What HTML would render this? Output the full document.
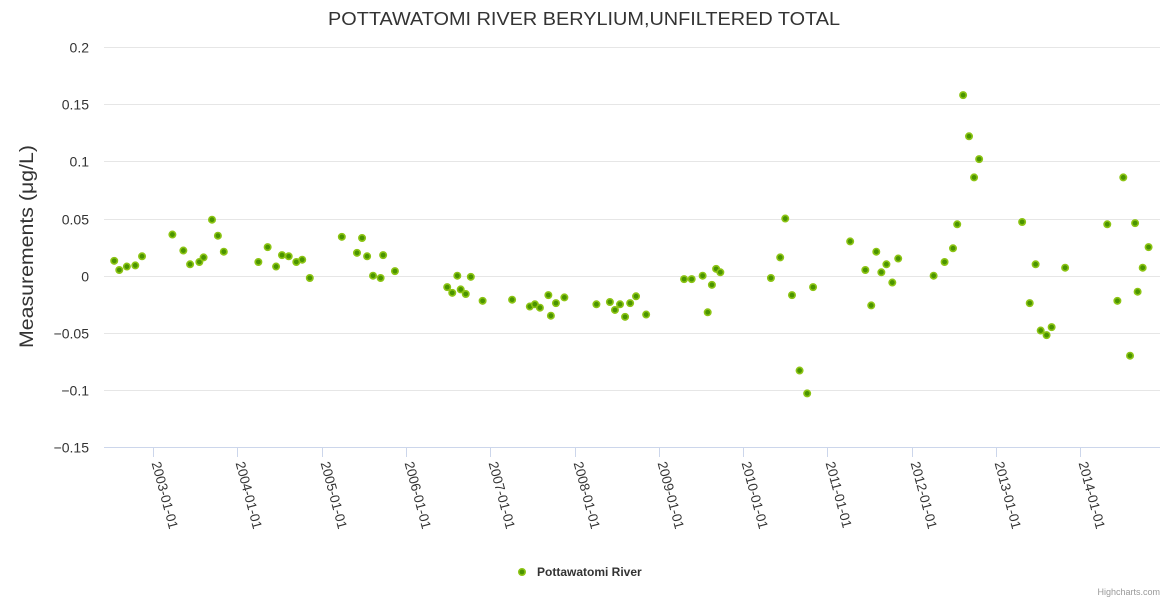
<!DOCTYPE html>
<html><head><meta charset="utf-8"><style>
body{margin:0;background:#fff;font-family:"Liberation Sans",sans-serif}
svg text{font-family:"Liberation Sans",sans-serif}
</style></head><body>
<svg id="chart" width="1170" height="600" xmlns="http://www.w3.org/2000/svg">
<rect width="1170" height="600" fill="#fff"/>
<text x="328" y="25" textLength="512" lengthAdjust="spacingAndGlyphs" font-size="18" fill="#333">POTTAWATOMI RIVER BERYLIUM,UNFILTERED TOTAL</text>
<text transform="translate(33,348) rotate(-90)" textLength="203" lengthAdjust="spacingAndGlyphs" font-size="19" fill="#333">Measurements (μg/L)</text>
<g id="grid"></g><g id="xaxis"></g><g id="pts"></g>
<g>
<circle cx="522" cy="572" r="3.2" fill="#4a9400" stroke="#8cc414" stroke-width="1.6"/>
<text x="537" y="576" font-size="12" font-weight="bold" fill="#333">Pottawatomi River</text></g>
<text x="1160" y="595" text-anchor="end" font-size="9" fill="#999">Highcharts.com</text>
</svg>
<script>
const years=[2002.54,2002.60,2002.69,2002.79,2002.87,2003.23,2003.36,2003.44,2003.55,2003.60,2003.70,2003.77,2003.84,2004.25,2004.36,2004.46,2004.53,2004.61,2004.70,2004.77,2004.86,2005.24,2005.42,2005.48,2005.54,2005.61,2005.70,2005.73,2005.87,2006.49,2006.55,2006.61,2006.65,2006.71,2006.77,2006.91,2007.26,2007.47,2007.53,2007.59,2007.69,2007.72,2007.78,2007.88,2008.26,2008.42,2008.48,2008.54,2008.60,2008.66,2008.73,2008.85,2009.30,2009.39,2009.52,2009.58,2009.63,2009.68,2009.73,2010.33,2010.44,2010.50,2010.58,2010.67,2010.76,2010.83,2011.27,2011.45,2011.52,2011.58,2011.64,2011.70,2011.77,2011.84,2012.26,2012.39,2012.49,2012.54,2012.61,2012.68,2012.74,2012.80,2013.31,2013.40,2013.47,2013.53,2013.60,2013.66,2013.82,2014.32,2014.44,2014.51,2014.59,2014.65,2014.68,2014.74,2014.81];
const values=[0.013,0.005,0.008,0.009,0.017,0.036,0.022,0.010,0.012,0.016,0.049,0.035,0.021,0.012,0.025,0.008,0.018,0.017,0.012,0.014,-0.002,0.034,0.020,0.033,0.017,0.000,-0.002,0.018,0.004,-0.010,-0.015,0.000,-0.012,-0.016,-0.001,-0.022,-0.021,-0.027,-0.025,-0.028,-0.017,-0.035,-0.024,-0.019,-0.025,-0.023,-0.030,-0.025,-0.036,-0.024,-0.018,-0.034,-0.003,-0.003,0.000,-0.032,-0.008,0.006,0.003,-0.002,0.016,0.050,-0.017,-0.083,-0.103,-0.010,0.030,0.005,-0.026,0.021,0.003,0.010,-0.006,0.015,0.000,0.012,0.024,0.045,0.158,0.122,0.086,0.102,0.047,-0.024,0.010,-0.048,-0.052,-0.045,0.007,0.045,-0.022,0.086,-0.070,0.046,-0.014,0.007,0.025];
const yTicks=[0.2,0.15,0.1,0.05,0,-0.05,-0.1,-0.15];
const yTickLabels=["0.2","0.15","0.1","0.05","0","−0.05","−0.1","−0.15"];
const xTicks=[2003,2004,2005,2006,2007,2008,2009,2010,2011,2012,2013,2014];
const xTickLabels=["2003-01-01","2004-01-01","2005-01-01","2006-01-01","2007-01-01","2008-01-01","2009-01-01","2010-01-01","2011-01-01","2012-01-01","2013-01-01","2014-01-01"];
const NS="http://www.w3.org/2000/svg";
const L=104,R=1160;
function yS(v){return 275.7-(v)*1142.8;}
function xS(t){return 153+(t-2003)*84.3;}
function mk(tag,attrs,parent){const e=document.createElementNS(NS,tag);for(const k in attrs)e.setAttribute(k,attrs[k]);parent.appendChild(e);return e;}
const grid=document.getElementById('grid');
yTicks.forEach((v,i)=>{
  const y=Math.round(yS(v))+0.5;
  const ln=mk('line',{x1:L,x2:R,y1:y,y2:y,stroke:i===yTicks.length-1?'#ccd6eb':'#e6e6e6','stroke-width':1},grid);
  
  
  const t=mk('text',{x:89,y:y+5,'text-anchor':'end','font-size':14,fill:'#333'},grid);
  t.textContent=yTickLabels[i];
  
  
});
const xa=document.getElementById('xaxis');
xTicks.forEach((tk,i)=>{
  const x=Math.round(xS(tk))+0.5;
  const l=mk('line',{x1:x,x2:x,y1:447,y2:457,stroke:'#ccd6eb'},xa);
  
  
  const t=mk('text',{transform:`translate(${x-2},${463}) rotate(75)`,'font-size':13.5,fill:'#333'},xa);
  t.textContent=xTickLabels[i];
  
  
});
const pts=document.getElementById('pts');
years.forEach((t,i)=>{
  const c=mk('circle',{cx:xS(t),cy:yS(values[i]),r:3.2,fill:'#4a9400',stroke:'#8cc414','stroke-width':1.6},pts);
  
  
});
</script>
</body></html>
